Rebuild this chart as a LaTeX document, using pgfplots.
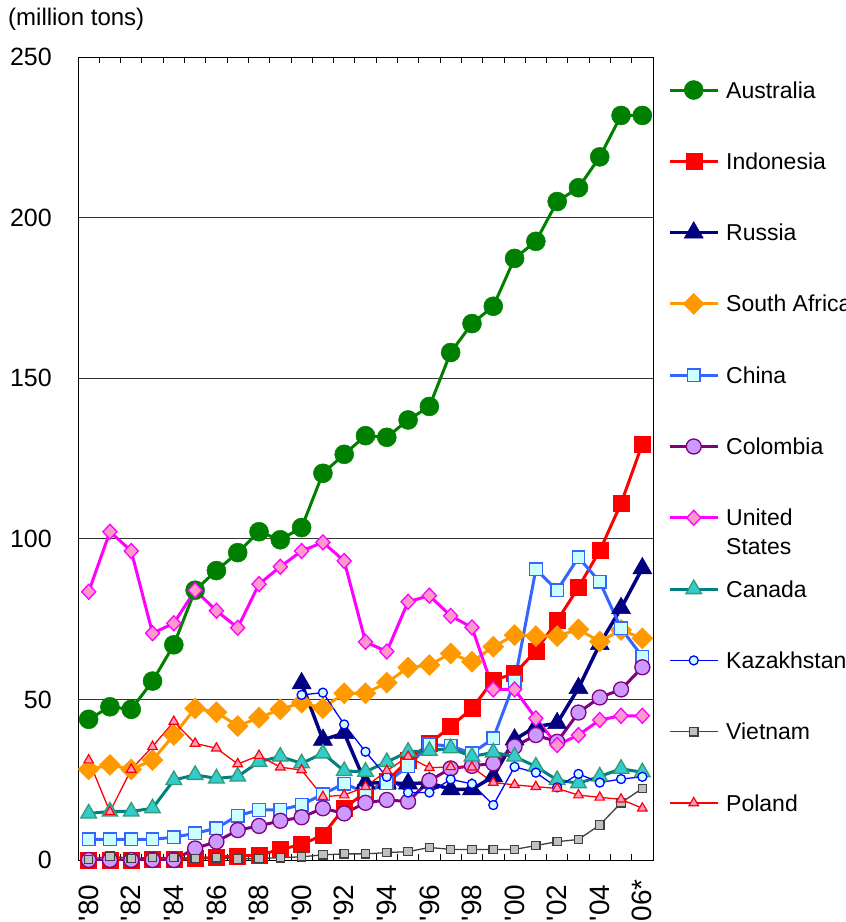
\documentclass[border=0pt]{standalone}
\usepackage{pgfplots}
\pgfplotsset{compat=1.18}
\usepackage{fontspec}
\setmainfont{Liberation Sans}
\newfontfamily\plainfont{Liberation Sans}
\newcommand{\ap}{{\plainfont\char"0027}}
\definecolor{cAus}{HTML}{008000}
\definecolor{cIdn}{HTML}{FF0000}
\definecolor{cRus}{HTML}{000080}
\definecolor{cZaf}{HTML}{FF9900}
\definecolor{cChnL}{HTML}{3366FF}
\definecolor{cChnF}{HTML}{CCFFFF}
\definecolor{cColL}{HTML}{800080}
\definecolor{cColF}{HTML}{CC99FF}
\definecolor{cUsaL}{HTML}{FF00FF}
\definecolor{cUsaF}{HTML}{FF99CC}
\definecolor{cCanL}{HTML}{008080}
\definecolor{cCanF}{HTML}{33CCCC}
\definecolor{cCanE}{HTML}{339977}
\definecolor{cKazL}{HTML}{0000FF}
\definecolor{cVnmL}{HTML}{404040}
\definecolor{cVnmF}{HTML}{C0C0C0}
\begin{document}
\begin{tikzpicture}[x=1pt,y=1pt]
\path[use as bounding box] (0,0) rectangle (846,922);
\node[anchor=west, inner sep=0pt, font=\fontsize{24}{28}\selectfont] at (8,903) {(million tons)};
\begin{axis}[
  at={(78pt,62pt)}, anchor=south west,
  scale only axis, width=575pt, height=803pt,
  xmin=-0.5, xmax=26.5, ymin=0, ymax=250,
  axis line style={black, line width=0.9pt},
  ytick={0,50,...,250},
  ymajorgrids, grid style={black!80, line width=0.8pt},
  xtick={0,2,...,26},
  xticklabels={\ap80,\ap82,\ap84,\ap86,\ap88,\ap90,\ap92,\ap94,\ap96,\ap98,\ap00,\ap02,\ap04,\ap06*},
  minor xtick={-0.5,0.5,...,26.5},
  major tick length=0pt,
  minor tick length=6pt,
  tick align=inside,
  tick style={black, line width=0.8pt},
  xticklabel style={yshift=-43pt, rotate=90, anchor=center, inner sep=0pt, font=\fontsize{28}{30}\selectfont},
  yticklabel style={anchor=east, inner sep=0pt, xshift=-26pt, font=\fontsize{25}{28}\selectfont},
  /pgf/number format/assume math mode=true,
  legend cell align=left,
  legend image code/.code={\draw[mark repeat=2,mark phase=2] plot coordinates {(0pt,8pt) (24pt,8pt) (48pt,8pt)};},
  legend style={at={(axis description cs:1,1)}, anchor=north west, xshift=15pt, yshift=-11pt,
    draw=none, fill=none, inner sep=0pt, outer sep=0pt, row sep=11.3pt, column sep=6.7pt,
    font=\fontsize{23}{29}\selectfont,
    nodes={inner sep=0pt, text height=30pt, text depth=30pt}},
]
\addplot[color=cAus, line width=3pt, mark=*, mark size=9.5pt, mark options={fill=cAus, draw=cAus, line width=0.5pt}] coordinates {
(0,43.8)(1,47.7)(2,46.9)(3,55.7)(4,67)(5,84)(6,90.1)(7,95.7)(8,102.2)(9,99.7)(10,103.5)(11,120.4)(12,126.3)(13,132.1)(14,131.6)(15,137)(16,141.2)(17,158)(18,167)(19,172.4)(20,187.3)(21,192.6)(22,205)(23,209.3)(24,218.9)(25,231.8)(26,231.8)};
\addlegendentry{Australia}
\addplot[color=cIdn, line width=3pt, mark=square*, mark size=8pt, mark options={fill=cIdn, draw=cIdn, line width=0.5pt}] coordinates {
(0,0)(1,0)(2,0)(3,0.2)(4,0.2)(5,0.5)(6,0.8)(7,1.3)(8,1.5)(9,3.3)(10,4.8)(11,7.8)(12,16.2)(13,21)(14,24.5)(15,31)(16,36.3)(17,41.5)(18,47.2)(19,56)(20,58)(21,65.1)(22,74.5)(23,84.9)(24,96.3)(25,111)(26,129.5)};
\addlegendentry{Indonesia}
\addplot[color=cRus, line width=3.5pt, mark=triangle*, mark size=11pt, mark options={fill=cRus, draw=cRus, line width=0.5pt}] coordinates {
(10,55)(11,37.4)(12,39.5)(13,24)(14,24)(15,23.8)(16,24)(17,22)(18,22)(19,26)(20,37.5)(21,41.5)(22,42.6)(23,53.5)(24,67.2)(25,78.4)(26,90.8)};
\addlegendentry{Russia}
\addplot[color=cZaf, line width=3pt, mark=diamond*, mark size=10.5pt, mark options={xscale=1.33, fill=cZaf, draw=cZaf, line width=0.5pt}] coordinates {
(0,28.2)(1,29.6)(2,28.2)(3,31.1)(4,38.9)(5,47.2)(6,46)(7,41.7)(8,44.3)(9,46.9)(10,49)(11,47.3)(12,51.9)(13,51.9)(14,55.2)(15,59.9)(16,60.7)(17,64.3)(18,61.7)(19,66.4)(20,70)(21,69.7)(22,69.7)(23,71.8)(24,68)(25,71.6)(26,69)};
\addlegendentry{South Africa}
\addplot[color=cChnL, line width=3pt, mark=square*, mark size=6.3pt, mark options={fill=cChnF, draw=cChnL, line width=1.3pt}] coordinates {
(0,6.4)(1,6.4)(2,6.4)(3,6.4)(4,7.1)(5,8.3)(6,9.9)(7,13.8)(8,15.6)(9,15.6)(10,17.2)(11,20.5)(12,23.8)(13,21)(14,24)(15,29.3)(16,36)(17,35.5)(18,33.2)(19,37.9)(20,55.5)(21,90.5)(22,84)(23,94.2)(24,86.6)(25,72.1)(26,63.3)};
\addlegendentry{China}
\addplot[color=cColL, line width=3pt, mark=*, mark size=7.5pt, mark options={fill=cColF, draw=cColL, line width=1.3pt}] coordinates {
(0,0)(1,0)(2,0)(3,0)(4,0)(5,3.6)(6,5.7)(7,9.3)(8,10.6)(9,12.2)(10,13.3)(11,16.1)(12,14.5)(13,17.8)(14,18.7)(15,18.2)(16,24.7)(17,28.5)(18,29.3)(19,30.1)(20,35.3)(21,38.9)(22,36.8)(23,45.9)(24,50.6)(25,53.1)(26,60)};
\addlegendentry{Colombia}
\addplot[color=cUsaL, line width=3pt, mark=diamond*, mark size=7.5pt, mark options={xscale=1.25, fill=cUsaF, draw=cUsaL, line width=1.3pt}] coordinates {
(0,83.5)(1,102.2)(2,96.2)(3,70.6)(4,73.7)(5,84)(6,77.6)(7,72.3)(8,85.9)(9,91.3)(10,96.2)(11,98.9)(12,93.1)(13,67.9)(14,64.9)(15,80.4)(16,82.3)(17,76)(18,72.4)(19,53.1)(20,53.1)(21,44.1)(22,35.8)(23,38.9)(24,43.6)(25,44.9)(26,44.9)};
\addlegendentry{\begin{tabular}[t]{@{}l@{}}United\\States\end{tabular}}
\addplot[color=cCanL, line width=3pt, mark=triangle*, mark size=9pt, mark options={fill=cCanF, draw=cCanE, line width=1.3pt}] coordinates {
(0,14.5)(1,15.1)(2,15.1)(3,16.1)(4,24.9)(5,26.5)(6,25.4)(7,26)(8,30.6)(9,32.2)(10,30.1)(11,33.2)(12,27.7)(13,27.5)(14,30.5)(15,33.7)(16,34)(17,34.8)(18,32.2)(19,33.5)(20,32.2)(21,29.1)(22,24.9)(23,23.9)(24,26)(25,28.4)(26,27.3)};
\addlegendentry{Canada}
\addplot[color=cKazL, line width=1.3pt, mark=*, mark size=4.5pt, mark options={fill=cChnF, draw=cKazL, line width=1.3pt}] coordinates {
(10,51.4)(11,52.1)(12,42.2)(13,33.7)(14,25.9)(15,21)(16,21)(17,25.1)(18,23.7)(19,17.1)(20,29)(21,27.2)(22,22.6)(23,26.8)(24,24.1)(25,25.2)(26,25.9)};
\addlegendentry{Kazakhstan}
\addplot[color=cVnmL, line width=1.3pt, mark=square*, mark size=4.2pt, mark options={fill=cVnmF, draw=cVnmL, line width=1.2pt}] coordinates {
(0,0.2)(1,1.2)(2,0.5)(3,0.8)(4,0.8)(5,0.5)(6,0.7)(7,0.3)(8,0.5)(9,0.7)(10,1.0)(11,1.6)(12,1.9)(13,1.9)(14,2.3)(15,2.6)(16,3.9)(17,3.3)(18,3.3)(19,3.3)(20,3.3)(21,4.5)(22,5.7)(23,6.4)(24,10.9)(25,17.8)(26,22.3)};
\addlegendentry{Vietnam}
\addplot[color=cIdn, line width=1.3pt, mark=triangle*, mark size=5.5pt, mark options={fill=cUsaF, draw=cIdn, line width=1.2pt}] coordinates {
(0,31.1)(1,15)(2,28.2)(3,35.3)(4,43.1)(5,36.3)(6,34.8)(7,29.9)(8,32.5)(9,28.9)(10,28)(11,19.7)(12,20.2)(13,22.8)(14,27.8)(15,32.2)(16,28.7)(17,29)(18,28.9)(19,24.1)(20,23.4)(21,22.8)(22,22.3)(23,20.2)(24,19.5)(25,18.9)(26,16.1)};
\addlegendentry{Poland}
\end{axis}
\end{tikzpicture}
\end{document}
